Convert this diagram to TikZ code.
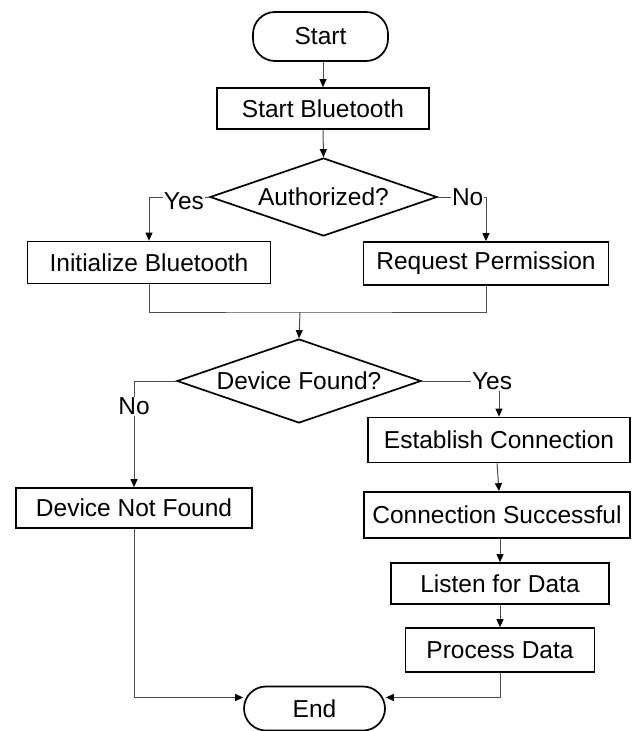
\documentclass[tikz,border=0pt]{standalone}
\usepackage{fontspec}
\setmainfont{Liberation Sans}
\usetikzlibrary{shapes.geometric,arrows.meta,calc}
\begin{document}
\begin{tikzpicture}[x=1pt,y=-1pt,
  every node/.style={font=\fontsize{24.5}{28}\selectfont, inner sep=0pt},
  box/.style={draw=black, line width=1.7pt, rectangle, fill=white},
  pill/.style={draw=black, line width=1.7pt, rectangle, rounded corners=22pt, fill=white},
  dec/.style={draw=black, line width=1.7pt, diamond, aspect=2.9, fill=white},
  conn/.style={draw=black!70, line width=1pt},
  arr/.style={conn, -{Triangle[length=8pt,width=7pt,color=black]}},
  lbl/.style={fill=white, inner sep=1pt}
]
\useasboundingbox (0,0) rectangle (632,731);

\node[pill, minimum width=135pt, minimum height=49pt] (start) at (320.5,36.5) {Start};
\node[box, minimum width=212pt, minimum height=41pt] (sb) at (323,108.5) {Start Bluetooth};
\node[dec, minimum width=227pt, minimum height=78pt] (auth) at (323.5,197) {Authorized?};
\node[box, minimum width=243pt, minimum height=42pt] (init) at (149,262.5) {Initialize Bluetooth};
\node[box, minimum width=245pt, minimum height=43pt] (req) at (486,263.5) {Request Permission};
\coordinate (merge) at (300,312);
\node[dec, minimum width=244pt, minimum height=84pt] (dev) at (299,381) {Device Found?};
\node[box, minimum width=236pt, minimum height=40pt] (nf) at (134,508) {Device Not Found};
\node[box, minimum width=262pt, minimum height=45pt] (est) at (499,440) {Establish Connection};
\node[box, minimum width=266pt, minimum height=46pt] (cs) at (497,515) {Connection Successful};
\node[box, minimum width=218pt, minimum height=41pt] (lis) at (500,583.5) {Listen for Data};
\node[box, minimum width=189pt, minimum height=44pt] (pd) at (500,650) {Process Data};
\node[pill, minimum width=141pt, minimum height=44pt] (end) at (314.5,708.5) {End};

\draw[arr] (sb.north |- start.south) -- (sb.north);
\draw[arr] (sb.south) -- (auth.north);
\draw[arr] (auth.west) -| node[lbl, pos=0.21, yshift=-4pt]{Yes} (init.north);
\draw[arr] (auth.east) -| node[lbl, pos=0.31]{No} (req.north);
\draw[conn] (init.south) |- (merge) -| (req.south);
\draw[arr] (merge) -- (dev.north);
\draw[arr] (dev.west) -| node[lbl, pos=0.62]{No} (nf.north);
\draw[arr] (dev.east) -| node[lbl, pos=0.5, xshift=-7pt]{Yes} (est.north);
\draw[arr] (est.south -| cs.north) -- (cs.north -| est.south);
\draw[arr] (cs.south -| lis.north) -- (lis.north);
\draw[arr] (lis.south) -- (pd.north);
\draw[arr] (nf.south) |- ([yshift=11pt]end.west);
\draw[arr] (pd.south) |- ([yshift=11pt]end.east);
\end{tikzpicture}
\end{document}
